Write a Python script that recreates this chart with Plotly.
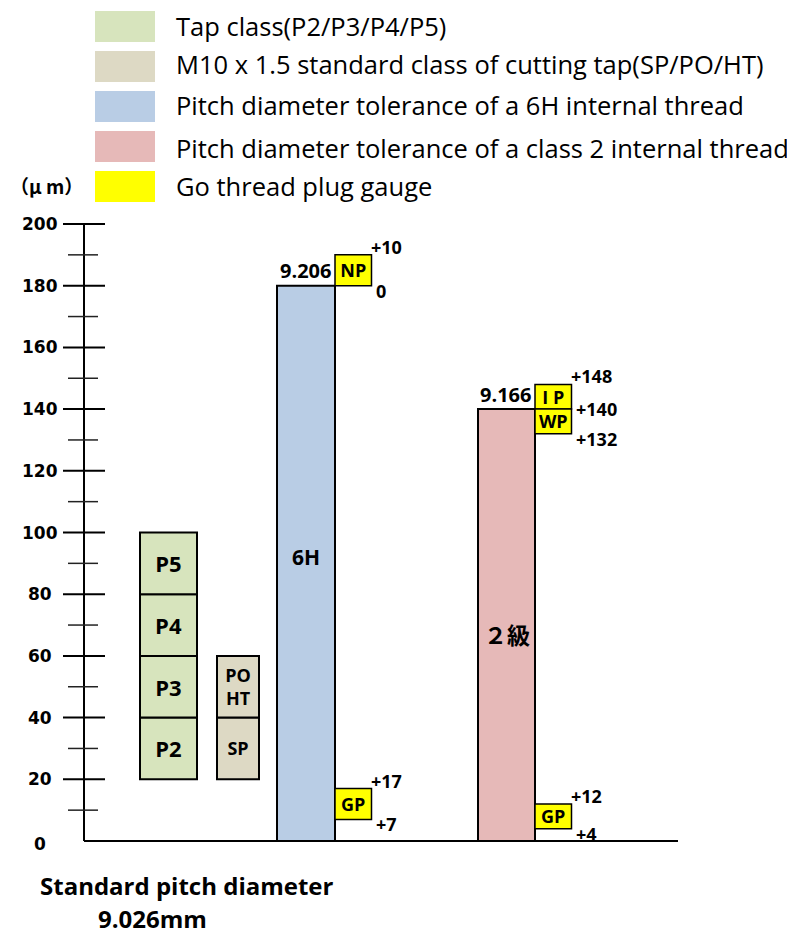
import plotly.graph_objects as go

# ---------------- data ----------------
legend_names = [
    "Tap class(P2/P3/P4/P5)",
    "M10 x 1.5 standard class of cutting tap(SP/PO/HT)",
    "Pitch diameter tolerance of a 6H internal thread",
    "Pitch diameter tolerance of a class 2 internal thread",
    "Go thread plug gauge",
]
legend_colors = ["#D7E4BD", "#DDD9C4", "#B9CDE5", "#E6B9B8", "#FFFF00"]

tap_class_labels = ["P2", "P3", "P4", "P5"]
tap_class_lo = [20, 40, 60, 80]
tap_class_hi = [40, 60, 80, 100]

std_tap_labels = ["SP", "PO<br>HT"]
std_tap_lo = [20, 40]
std_tap_hi = [40, 60]

thread_labels = ["6H", "２級"]
thread_hi = [180, 140]
thread_label_values = [92, 67]
thread_size_labels = ["9.206", "9.166"]

gauge_labels = ["NP", "GP", "I P", "WP", "GP"]
gauge_thread = [0, 0, 1, 1, 1]
gauge_lo = [180, 7, 140, 132, 4]
gauge_hi = [190, 17, 148, 140, 12]

limit_texts = ["+10", "0", "+17", "+7", "+148", "+140", "+132", "+12", "+4"]
limit_values = [190, 180, 17, 7, 148, 140, 132, 12, 4]
limit_thread = [0, 0, 0, 0, 1, 1, 1, 1, 1]
limit_kind = ["upper", "lower", "upper", "lower", "upper", "mid", "lower", "upper", "lower"]

y_major = list(range(0, 201, 20))
y_minor = list(range(10, 200, 20))
unit_label = "（μ m）"
base_label_lines = ["Standard pitch diameter", "9.026mm"]

# ---------------- layout constants ----------------
W, H = 795, 935          # browser window
OFF = 8                  # page body margin
FW, FH = W - OFF, H - OFF
Y0_PX, Y200_PX = 841, 224
scale = (Y0_PX - Y200_PX) / 200.0
y_min = -(H - Y0_PX) / scale
y_max = (Y0_PX - OFF) / scale

AXIS_X = 84
AXIS_END = 678
TAP_X, TAP_W = 168.5, 57
STD_X, STD_W = 238, 42
THREAD_X = [306, 506.5]
THREAD_W = [58, 57]
GAUGE_W = 36.5

BOLD = "Open Sans"
LINE = dict(color="black", width=2)


def px(p):
    return (p - OFF) / FW


def py(p):
    return 1 - (p - OFF) / FH


fig = go.Figure()

# Tap class boxes
fig.add_bar(
    x=[TAP_X] * len(tap_class_labels),
    y=[h - l for l, h in zip(tap_class_lo, tap_class_hi)],
    base=tap_class_lo, width=TAP_W,
    marker=dict(color=legend_colors[0], line=LINE),
    text=tap_class_labels, textposition="inside", insidetextanchor="middle",
    constraintext="none", textangle=0,
    textfont=dict(family=BOLD, size=22, color="black", weight="bold"),
    hoverinfo="skip",
)
# Standard cutting tap boxes
fig.add_bar(
    x=[STD_X] * len(std_tap_labels),
    y=[h - l for l, h in zip(std_tap_lo, std_tap_hi)],
    base=std_tap_lo, width=STD_W,
    marker=dict(color=legend_colors[1], line=LINE),
    text=std_tap_labels, textposition="inside", insidetextanchor="middle",
    constraintext="none", textangle=0,
    textfont=dict(family=BOLD, size=18, color="black", weight="bold"),
    hoverinfo="skip",
)
# Thread tolerance bars
for i in range(2):
    fig.add_bar(
        x=[THREAD_X[i]], y=[thread_hi[i]], base=[0], width=THREAD_W[i],
        marker=dict(color=legend_colors[2 + i], line=LINE),
        hoverinfo="skip",
    )
    fig.add_annotation(
        x=THREAD_X[i], y=thread_label_values[i], text=thread_labels[i],
        showarrow=False,
        font=dict(family="Noto Sans CJK JP" if i else BOLD, size=23 if i else 21,
                  color="black", weight="bold"),
    )
    fig.add_annotation(
        x=THREAD_X[i] + THREAD_W[i] / 2 - 2, y=thread_hi[i], text=thread_size_labels[i],
        showarrow=False, xanchor="right", yanchor="middle", yshift=15,
        font=dict(family=BOLD, size=20, color="black", weight="bold"),
    )

# Gauge boxes
gauge_x = [THREAD_X[t] + THREAD_W[t] / 2 + GAUGE_W / 2 for t in gauge_thread]
fig.add_bar(
    x=gauge_x, y=[h - l for l, h in zip(gauge_lo, gauge_hi)], base=gauge_lo,
    width=GAUGE_W,
    marker=dict(color=legend_colors[4], line=dict(color="black", width=1.5)),
    text=gauge_labels, textposition="inside", insidetextanchor="middle",
    constraintext="none", textangle=0,
    textfont=dict(family=BOLD, size=18, color="black", weight="bold"),
    hoverinfo="skip",
)

# Limit labels
for txt, v, t, k in zip(limit_texts, limit_values, limit_thread, limit_kind):
    right = THREAD_X[t] + THREAD_W[t] / 2 + GAUGE_W
    fig.add_annotation(
        x=right + (-3 if k == "upper" else 2), y=v, text=txt, showarrow=False,
        xanchor="left", yanchor="middle",
        yshift={"upper": 8, "lower": -5, "mid": 0}[k],
        font=dict(family=BOLD, size=18, color="black", weight="bold"),
    )

# Axes drawn as shapes in data coordinates
shapes = [
    dict(type="line", xref="x", yref="y", x0=AXIS_X, x1=AXIS_X, y0=0, y1=200, line=LINE),
    dict(type="line", xref="x", yref="y", x0=AXIS_X, x1=AXIS_END, y0=0, y1=0, line=LINE),
]
for v in y_major[1:]:
    shapes.append(dict(type="line", xref="x", yref="y", x0=AXIS_X - 21, x1=AXIS_X + 21,
                       y0=v, y1=v, line=LINE))
for v in y_minor:
    shapes.append(dict(type="line", xref="x", yref="y", x0=AXIS_X - 16, x1=AXIS_X + 14,
                       y0=v, y1=v, line=dict(color="#222", width=1.5)))
for v in y_major:
    fig.add_annotation(x=40, y=v, text=str(v), showarrow=False, xanchor="center",
                       yanchor="middle", yshift=-3 if v == 0 else 0,
                       font=dict(family="DejaVu Sans", size=17, color="black", weight="bold"))

# Legend (swatches + text)
leg_top = [11, 51, 91, 131, 171]
leg_text_y = [26, 64, 105, 148, 186]
for name, col, t, ty in zip(legend_names, legend_colors, leg_top, leg_text_y):
    shapes.append(dict(type="rect", xref="paper", yref="paper",
                       x0=px(95), x1=px(155), y0=py(t), y1=py(t + 31),
                       fillcolor=col, line=dict(width=0)))
    fig.add_annotation(xref="paper", yref="paper", x=px(174), y=py(ty), text=name,
                       showarrow=False, xanchor="left", yanchor="middle",
                       font=dict(family="Open Sans", size=25.5, color="black"))

fig.add_annotation(xref="paper", yref="paper", x=px(OFF + 1), y=py(185), text=unit_label,
                   showarrow=False, xanchor="left", yanchor="middle", borderpad=0,
                   font=dict(family="Noto Sans CJK JP", size=19, color="black", weight="bold"))
fig.add_annotation(xref="paper", yref="paper", x=px(187), y=py(885), text=base_label_lines[0],
                   showarrow=False, xanchor="center", yanchor="middle",
                   font=dict(family=BOLD, size=24, color="black", weight="bold"))
fig.add_annotation(xref="paper", yref="paper", x=px(152), y=py(918), text=base_label_lines[1],
                   showarrow=False, xanchor="center", yanchor="middle",
                   font=dict(family=BOLD, size=24, color="black", weight="bold"))

fig.update_layout(
    width=FW, height=FH, autosize=False,
    margin=dict(l=0, r=0, t=0, b=0),
    paper_bgcolor="white", plot_bgcolor="white",
    barmode="overlay", showlegend=False, shapes=shapes,
    xaxis=dict(range=[OFF, W], visible=False, fixedrange=True),
    yaxis=dict(range=[y_min, y_max], visible=False, fixedrange=True),
)
fig.write_html("out.html")
